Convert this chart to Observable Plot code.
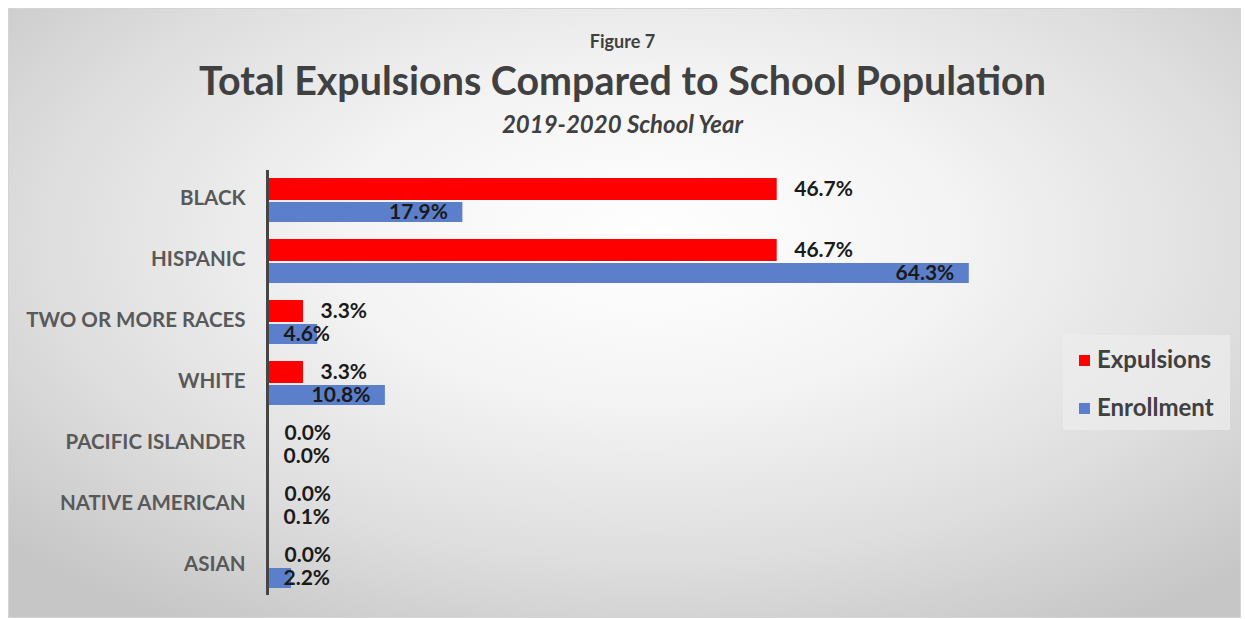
<!DOCTYPE html>
<html>
<head>
<meta charset="utf-8">
<script src="https://cdn.jsdelivr.net/npm/d3@7"></script>
<script src="https://cdn.jsdelivr.net/npm/@observablehq/plot@0.6"></script>
<style>
  html, body { margin: 0; padding: 0; background: #ffffff; }
  #wrap { position: relative; width: 1245px; height: 619px; overflow: hidden; font-family: Lato, "Open Sans", sans-serif; }
  #bg { position: absolute; left: 8px; top: 8px; width: 1231px; height: 608px; border: 1px solid #d4d4d4;
        background: radial-gradient(ellipse 70% 75% at 52% 38%, #ffffff 0%, #f4f4f4 35%, #dedede 70%, #c6c6c6 100%); }
  .t { position: absolute; left: 0; width: 1245px; text-align: center; color: #404040; font-weight: 700; white-space: nowrap; }
  #fig { top: 30px; font-size: 18px; }
  #title { top: 56px; font-size: 39.4px; }
  #sub { top: 109px; font-size: 24px; font-style: italic; }
  #plot { position: absolute; left: 0; top: 160px; }
  #legend { position: absolute; left: 1063px; top: 335px; width: 167px; height: 95px; background: rgba(236,236,236,0.75); }
  .li { position: absolute; left: 16px; font-size: 24px; font-weight: 700; color: #404040; line-height: 26px; white-space: nowrap; }
  .sw { display: inline-block; width: 11px; height: 11px; margin-right: 7px; vertical-align: 2px; }
</style>
</head>
<body>
<div id="wrap">
  <div id="bg"></div>
  <div class="t" id="fig">Figure 7</div>
  <div class="t" id="title">Total Expulsions Compared to School Population</div>
  <div class="t" id="sub">2019-2020 School Year</div>
  <div id="plot"></div>
  <div id="legend">
    <div class="li" style="top:11px"><span class="sw" style="background:#ff0000"></span>Expulsions</div>
    <div class="li" style="top:59px"><span class="sw" style="background:#5b7fca"></span>Enrollment</div>
  </div>
</div>
<script>
const categories = ["BLACK", "HISPANIC", "TWO OR MORE RACES", "WHITE", "PACIFIC ISLANDER", "NATIVE AMERICAN", "ASIAN"];
const expulsions = [46.7, 46.7, 3.3, 3.3, 0.0, 0.0, 0.0];
const enrollment = [17.9, 64.3, 4.6, 10.8, 0.0, 0.1, 2.2];
const seriesNames = ["Expulsions", "Enrollment"];
const seriesColors = ["#ff0000", "#5b7fca"];

const exp = categories.map((c, i) => ({cat: c, v: expulsions[i]}));
const enr = categories.map((c, i) => ({cat: c, v: enrollment[i]}));
const fmt = d => d.v.toFixed(1) + "%";

const lbl = {fontSize: 21, fontWeight: 700, fill: "#1a1a1a", fontFamily: "Lato"};
const chart = Plot.plot({
  width: 1245,
  height: 445,
  marginLeft: 267,
  marginRight: 214,
  marginTop: 10,
  marginBottom: 10,
  style: {background: "transparent", overflow: "visible"},
  x: {domain: [0, 70], axis: null},
  y: {domain: categories, paddingInner: 0.279, paddingOuter: 0.12, label: null},
  marks: [
    Plot.barX(exp, {x: "v", y: "cat", fill: seriesColors[0], insetBottom: 22}),
    Plot.barX(enr, {x: "v", y: "cat", fill: seriesColors[1], insetTop: 24}),
    Plot.ruleX([0], {stroke: "#454545", strokeWidth: 3}),
    Plot.axisY({tickSize: 0, tickPadding: 22, fontSize: 20.5, fontWeight: 700, fill: "#595959", label: null, fontFamily: "Lato", dy: -2}),
    Plot.text(exp, {x: "v", y: "cat", text: fmt, dx: 17, dy: -11, textAnchor: "start", ...lbl}),
    Plot.text(enr.filter(d => d.v >= 8), {x: "v", y: "cat", text: fmt, dx: -15, dy: 11.5, textAnchor: "end", ...lbl}),
    Plot.text(enr.filter(d => d.v < 8), {x: () => 0, y: "cat", text: fmt, dx: 16, dy: 11.5, textAnchor: "start", ...lbl})
  ]
});
document.getElementById("plot").appendChild(chart);
</script>
</body>
</html>
